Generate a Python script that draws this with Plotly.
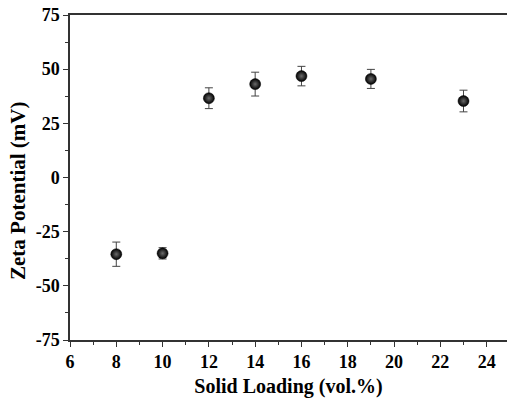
import plotly.graph_objects as go

solid_loading = [8, 10, 12, 14, 16, 19, 23]
zeta = [-35.4, -35.0, 36.6, 43.1, 46.8, 45.5, 35.3]
zeta_err = [5.6, 2.6, 4.8, 5.5, 4.5, 4.4, 5.0]

x_ticks = [6, 8, 10, 12, 14, 16, 18, 20, 22, 24]
y_ticks = [-75, -50, -25, 0, 25, 50, 75]

font = "Liberation Serif"

fig = go.Figure()
fig.add_trace(go.Scatter(
    x=solid_loading, y=zeta, mode="markers",
    error_y=dict(type="data", array=zeta_err, visible=True,
                 color="#444", thickness=1, width=4),
    marker=dict(size=11, color="#000",
                gradient=dict(type="radial", color="#6a6a6a"),
                line=dict(width=0.5, color="#000")),
    showlegend=False,
))

fig.update_layout(
    width=507, height=403,
    margin=dict(l=70, r=0, t=15, b=63),
    plot_bgcolor="white", paper_bgcolor="white",
    font=dict(family=font, color="#000", size=18),
    xaxis=dict(
        range=[6, 24.88], tickmode="array", tickvals=x_ticks,
        ticktext=["<b>%d</b>" % v for v in x_ticks],
        showgrid=False, zeroline=False,
        showline=True, linecolor="#333", linewidth=1.5, mirror=True,
        ticks="outside", ticklen=5, tickwidth=1.2, tickcolor="#333",
        tickfont=dict(size=18, family=font, color="#000"),
        title=dict(text="<b>Solid Loading (vol.%)</b>",
                   font=dict(size=20, family=font, color="#000"), standoff=8),
    ),
    yaxis=dict(
        range=[-75, 75], tickmode="array", tickvals=y_ticks,
        ticktext=["<b>%d</b>" % v for v in y_ticks],
        showgrid=False, zeroline=False,
        showline=True, linecolor="#333", linewidth=1.5, mirror=False,
        ticks="outside", ticklen=5, tickwidth=1.2, tickcolor="#333",
        tickfont=dict(size=18, family=font, color="#000"),
    ),
)
fig.update_xaxes(minor=dict(dtick=1, ticks="outside", ticklen=3, tickwidth=1, tickcolor="#333", showgrid=False))
fig.update_yaxes(minor=dict(dtick=12.5, ticks="outside", ticklen=3, tickwidth=1, tickcolor="#333", showgrid=False))
fig.add_annotation(
    text="<b>Zeta Potential (mV)</b>", textangle=-90, showarrow=False,
    xref="paper", yref="paper", x=-0.119, y=0.4585,
    xanchor="center", yanchor="middle",
    font=dict(size=21, family=font, color="#000"),
)

fig.write_html("out.html")
